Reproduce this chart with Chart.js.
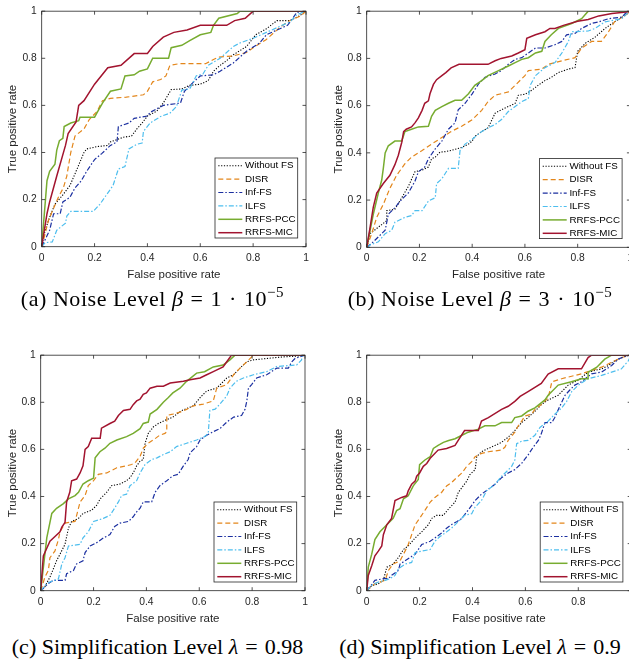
<!DOCTYPE html>
<html>
<head>
<meta charset="utf-8">
<script src="https://cdn.jsdelivr.net/npm/chart.js@4/dist/chart.umd.min.js"></script>
<style>
  html, body { margin: 0; padding: 0; background: #fff; overflow: hidden; width: 629px; height: 664px; }
  canvas { position: absolute; }
  .cap { position: absolute; font-family: "Liberation Serif", "DejaVu Serif", serif; font-size: 22px; line-height: 22px;
         text-align: center; white-space: nowrap; color: #000; }
  .cap sup { font-size: 15px; line-height: 0; vertical-align: 9px; }
  .cap .op { margin: 0 0.32em; }
  .cap.n { letter-spacing: 0.55px; }
</style>
</head>
<body>
<canvas id="cA" width="315" height="285" style="left:0;top:0"></canvas>
<canvas id="cB" width="325" height="285" style="left:315px;top:0"></canvas>
<canvas id="cC" width="315" height="285" style="left:0;top:344px"></canvas>
<canvas id="cD" width="325" height="285" style="left:315px;top:344px"></canvas>
<div class="cap n" style="left:0;top:288px;width:305px">(a) Noise Level <i>β</i><span class="op">=</span>1<span class="op">·</span>10<sup>−5</sup></div>
<div class="cap n" style="left:315px;top:288px;width:330px">(b) Noise Level <i>β</i><span class="op">=</span>3<span class="op">·</span>10<sup>−5</sup></div>
<div class="cap" style="left:0;top:636px;width:315px">(c) Simplification Level <i>λ</i><span class="op">=</span>0.98</div>
<div class="cap" style="left:315px;top:636px;width:330px">(d) Simplification Level <i>λ</i><span class="op">=</span>0.9</div>
<script>
// ---- data: ROC curves, [false positive rate, true positive rate] ----
const seriesNames = ['Without FS', 'DISR', 'Inf-FS', 'ILFS', 'RRFS-PCC', 'RRFS-MIC'];
const tickValues = [0, 0.2, 0.4, 0.6, 0.8, 1];
const tickLabels = ['0', '0.2', '0.4', '0.6', '0.8', '1'];

// (a) noise level 1e-5
const aWithout = [[0,0],[0.013,0.07],[0.03,0.125],[0.05,0.18],[0.08,0.22],[0.107,0.26],[0.13,0.32],[0.16,0.40],[0.17,0.415],[0.21,0.425],[0.25,0.43],[0.26,0.445],[0.31,0.465],[0.34,0.47],[0.36,0.50],[0.38,0.525],[0.40,0.555],[0.435,0.575],[0.46,0.61],[0.49,0.667],[0.53,0.67],[0.56,0.685],[0.60,0.69],[0.63,0.705],[0.65,0.745],[0.675,0.77],[0.70,0.79],[0.725,0.815],[0.775,0.85],[0.81,0.90],[0.85,0.925],[0.89,0.96],[0.94,0.96],[0.975,0.98],[1,1]];
const aDisr = [[0,0],[0.013,0.055],[0.025,0.11],[0.04,0.15],[0.063,0.21],[0.082,0.25],[0.095,0.30],[0.11,0.40],[0.126,0.47],[0.16,0.50],[0.18,0.54],[0.21,0.575],[0.23,0.62],[0.26,0.63],[0.32,0.635],[0.385,0.645],[0.40,0.66],[0.42,0.70],[0.45,0.71],[0.47,0.725],[0.485,0.77],[0.52,0.777],[0.62,0.777],[0.65,0.795],[0.67,0.805],[0.725,0.81],[0.775,0.825],[0.80,0.845],[0.85,0.88],[0.875,0.905],[0.9,0.93],[0.93,0.955],[0.98,0.98],[1,1]];
const aInf = [[0,0],[0.013,0.03],[0.03,0.07],[0.045,0.14],[0.07,0.14],[0.08,0.19],[0.107,0.21],[0.126,0.25],[0.15,0.28],[0.17,0.32],[0.20,0.37],[0.227,0.395],[0.26,0.43],[0.285,0.445],[0.29,0.51],[0.33,0.525],[0.35,0.545],[0.40,0.555],[0.41,0.57],[0.435,0.585],[0.46,0.60],[0.525,0.61],[0.54,0.66],[0.575,0.70],[0.60,0.725],[0.65,0.73],[0.675,0.745],[0.725,0.78],[0.775,0.83],[0.825,0.865],[0.85,0.90],[0.89,0.92],[0.93,0.94],[0.95,0.97],[0.965,0.995],[1,1]];
const aIlfs = [[0,0],[0.013,0.017],[0.04,0.02],[0.057,0.07],[0.09,0.10],[0.095,0.13],[0.11,0.15],[0.195,0.15],[0.22,0.18],[0.245,0.22],[0.27,0.26],[0.29,0.33],[0.315,0.34],[0.33,0.415],[0.36,0.435],[0.38,0.44],[0.385,0.49],[0.41,0.525],[0.45,0.553],[0.485,0.567],[0.51,0.595],[0.53,0.665],[0.56,0.67],[0.585,0.726],[0.61,0.733],[0.63,0.77],[0.675,0.80],[0.725,0.85],[0.75,0.865],[0.80,0.885],[0.85,0.91],[0.90,0.935],[0.94,0.955],[0.965,0.985],[1,1]];
const aPcc = [[0,0],[0.02,0.28],[0.03,0.32],[0.05,0.35],[0.057,0.41],[0.067,0.45],[0.08,0.46],[0.085,0.51],[0.11,0.525],[0.14,0.535],[0.145,0.55],[0.20,0.55],[0.21,0.57],[0.23,0.61],[0.26,0.66],[0.30,0.67],[0.315,0.725],[0.35,0.73],[0.37,0.745],[0.40,0.755],[0.42,0.80],[0.48,0.80],[0.49,0.845],[0.53,0.855],[0.56,0.875],[0.60,0.90],[0.64,0.91],[0.65,0.94],[0.67,0.97],[0.74,0.99],[0.75,1],[1,1]];
const aMic = [[0,0],[0.02,0.14],[0.03,0.19],[0.057,0.30],[0.09,0.43],[0.10,0.48],[0.13,0.53],[0.14,0.60],[0.16,0.62],[0.20,0.69],[0.25,0.76],[0.30,0.77],[0.35,0.82],[0.40,0.82],[0.42,0.85],[0.46,0.89],[0.50,0.91],[0.55,0.92],[0.60,0.94],[0.70,0.94],[0.73,0.96],[0.77,0.97],[0.80,1],[1,1]];

// (b) noise level 3e-5
const bWithout = [[0,0],[0.013,0.058],[0.044,0.085],[0.076,0.113],[0.076,0.155],[0.107,0.161],[0.133,0.21],[0.158,0.258],[0.183,0.32],[0.21,0.327],[0.234,0.34],[0.246,0.375],[0.26,0.382],[0.278,0.403],[0.297,0.405],[0.32,0.41],[0.36,0.423],[0.386,0.437],[0.40,0.45],[0.41,0.47],[0.436,0.49],[0.46,0.506],[0.487,0.568],[0.51,0.582],[0.537,0.596],[0.563,0.61],[0.575,0.644],[0.60,0.648],[0.626,0.665],[0.65,0.686],[0.676,0.706],[0.70,0.72],[0.727,0.74],[0.765,0.755],[0.79,0.761],[0.80,0.83],[0.83,0.865],[0.866,0.89],[0.904,0.927],[0.94,0.955],[0.98,0.982],[1,1]];
const bDisr = [[0,0],[0.019,0.058],[0.038,0.127],[0.063,0.182],[0.088,0.25],[0.114,0.306],[0.145,0.354],[0.17,0.382],[0.21,0.41],[0.246,0.437],[0.285,0.465],[0.32,0.49],[0.36,0.513],[0.40,0.54],[0.436,0.58],[0.46,0.617],[0.487,0.644],[0.537,0.658],[0.563,0.686],[0.60,0.727],[0.613,0.748],[0.664,0.755],[0.69,0.775],[0.74,0.79],[0.79,0.803],[0.815,0.844],[0.853,0.872],[0.89,0.872],[0.917,0.913],[0.94,0.955],[0.98,0.982],[1,1]];
const bInf = [[0,0],[0.019,0.017],[0.044,0.044],[0.07,0.072],[0.082,0.14],[0.107,0.168],[0.133,0.203],[0.158,0.23],[0.183,0.28],[0.196,0.32],[0.22,0.34],[0.234,0.375],[0.26,0.417],[0.285,0.45],[0.31,0.50],[0.335,0.527],[0.347,0.582],[0.373,0.61],[0.40,0.65],[0.424,0.692],[0.449,0.72],[0.487,0.734],[0.51,0.748],[0.537,0.775],[0.563,0.796],[0.588,0.803],[0.613,0.823],[0.64,0.844],[0.676,0.844],[0.714,0.858],[0.74,0.872],[0.758,0.90],[0.79,0.906],[0.815,0.927],[0.853,0.948],[0.88,0.955],[0.917,0.968],[0.967,0.975],[0.985,0.995],[1,1]];
const bIlfs = [[0,0],[0.013,0.01],[0.044,0.023],[0.07,0.058],[0.095,0.072],[0.107,0.106],[0.145,0.127],[0.17,0.134],[0.183,0.155],[0.21,0.155],[0.234,0.196],[0.26,0.21],[0.265,0.27],[0.285,0.29],[0.31,0.334],[0.347,0.334],[0.354,0.41],[0.373,0.437],[0.40,0.458],[0.436,0.49],[0.46,0.506],[0.487,0.52],[0.51,0.54],[0.537,0.575],[0.563,0.596],[0.588,0.617],[0.613,0.63],[0.62,0.686],[0.64,0.727],[0.676,0.761],[0.714,0.782],[0.74,0.823],[0.765,0.872],[0.777,0.913],[0.84,0.916],[0.866,0.927],[0.904,0.955],[0.967,0.968],[0.992,0.995],[1,1]];
const bPcc = [[0,0],[0.025,0.14],[0.044,0.23],[0.057,0.285],[0.063,0.334],[0.07,0.40],[0.082,0.43],[0.107,0.45],[0.133,0.45],[0.145,0.49],[0.17,0.50],[0.196,0.51],[0.234,0.513],[0.246,0.555],[0.26,0.58],[0.285,0.596],[0.31,0.61],[0.335,0.623],[0.36,0.623],[0.386,0.65],[0.41,0.686],[0.436,0.706],[0.46,0.727],[0.50,0.748],[0.537,0.768],[0.563,0.782],[0.588,0.796],[0.613,0.803],[0.64,0.823],[0.664,0.83],[0.676,0.872],[0.70,0.90],[0.727,0.927],[0.777,0.948],[0.815,0.968],[0.84,1],[1,1]];
const bMic = [[0,0],[0.013,0.085],[0.025,0.17],[0.038,0.23],[0.063,0.27],[0.088,0.305],[0.107,0.35],[0.12,0.39],[0.133,0.445],[0.14,0.49],[0.15,0.50],[0.17,0.51],[0.183,0.527],[0.196,0.548],[0.21,0.58],[0.22,0.61],[0.234,0.62],[0.24,0.65],[0.253,0.69],[0.265,0.71],[0.285,0.727],[0.30,0.74],[0.32,0.76],[0.35,0.775],[0.46,0.775],[0.487,0.79],[0.51,0.80],[0.55,0.81],[0.575,0.823],[0.60,0.837],[0.607,0.885],[0.64,0.90],[0.676,0.913],[0.695,0.927],[0.714,0.927],[0.746,0.94],[0.80,0.957],[0.84,0.965],[0.88,0.98],[0.93,0.99],[0.975,0.995],[1,1]];

// (c) simplification level 0.98
const cWithout = [[0,0],[0.016,0.017],[0.035,0.058],[0.048,0.093],[0.06,0.127],[0.073,0.155],[0.092,0.197],[0.105,0.266],[0.117,0.294],[0.143,0.307],[0.16,0.328],[0.193,0.342],[0.212,0.363],[0.225,0.39],[0.25,0.418],[0.268,0.446],[0.30,0.453],[0.325,0.467],[0.338,0.48],[0.35,0.50],[0.363,0.53],[0.376,0.55],[0.388,0.557],[0.395,0.626],[0.407,0.668],[0.426,0.695],[0.445,0.71],[0.47,0.723],[0.50,0.737],[0.533,0.765],[0.578,0.785],[0.603,0.82],[0.628,0.848],[0.666,0.86],[0.704,0.903],[0.73,0.917],[0.754,0.945],[0.78,0.972],[0.805,0.98],[0.855,0.986],[0.92,0.993],[0.98,0.997],[1,1]];
const cDisr = [[0,0],[0.016,0.058],[0.029,0.086],[0.035,0.14],[0.054,0.169],[0.067,0.217],[0.073,0.25],[0.092,0.287],[0.13,0.294],[0.136,0.32],[0.149,0.377],[0.168,0.404],[0.18,0.446],[0.20,0.467],[0.218,0.494],[0.25,0.50],[0.288,0.522],[0.325,0.53],[0.344,0.536],[0.357,0.543],[0.376,0.57],[0.388,0.605],[0.407,0.626],[0.426,0.64],[0.45,0.66],[0.47,0.668],[0.477,0.675],[0.477,0.744],[0.50,0.75],[0.527,0.758],[0.552,0.77],[0.578,0.785],[0.615,0.792],[0.653,0.806],[0.666,0.86],[0.704,0.875],[0.73,0.917],[0.754,0.945],[0.78,0.972],[0.805,1],[1,1]];
const cInf = [[0,0],[0.016,0.017],[0.029,0.03],[0.048,0.044],[0.092,0.044],[0.098,0.072],[0.124,0.086],[0.136,0.114],[0.16,0.127],[0.168,0.162],[0.187,0.19],[0.212,0.204],[0.237,0.224],[0.262,0.238],[0.28,0.273],[0.30,0.287],[0.332,0.294],[0.35,0.314],[0.363,0.335],[0.376,0.35],[0.388,0.377],[0.42,0.377],[0.433,0.418],[0.451,0.446],[0.477,0.467],[0.50,0.488],[0.52,0.494],[0.54,0.53],[0.558,0.557],[0.565,0.585],[0.59,0.612],[0.603,0.64],[0.628,0.66],[0.653,0.675],[0.678,0.688],[0.704,0.716],[0.73,0.737],[0.76,0.744],[0.773,0.77],[0.78,0.806],[0.786,0.86],[0.798,0.875],[0.817,0.903],[0.855,0.917],[0.893,0.945],[0.937,0.945],[0.95,0.972],[0.962,0.986],[0.98,0.993],[1,1]];
const cIlfs = [[0,0],[0.023,0.03],[0.035,0.037],[0.067,0.05],[0.08,0.114],[0.092,0.14],[0.105,0.19],[0.149,0.197],[0.16,0.224],[0.18,0.25],[0.20,0.294],[0.237,0.307],[0.262,0.32],[0.275,0.342],[0.294,0.377],[0.306,0.404],[0.325,0.41],[0.338,0.446],[0.363,0.467],[0.376,0.50],[0.395,0.536],[0.42,0.557],[0.44,0.564],[0.464,0.578],[0.49,0.59],[0.514,0.612],[0.552,0.626],[0.59,0.64],[0.62,0.654],[0.634,0.668],[0.64,0.765],[0.66,0.771],[0.678,0.792],[0.704,0.827],[0.716,0.86],[0.74,0.889],[0.767,0.903],[0.805,0.917],[0.855,0.93],[0.893,0.952],[0.968,0.958],[0.987,0.98],[0.99,1],[1,1]];
const cPcc = [[0,0],[0.023,0.224],[0.042,0.328],[0.06,0.35],[0.086,0.37],[0.105,0.39],[0.13,0.404],[0.143,0.418],[0.16,0.453],[0.18,0.467],[0.20,0.478],[0.206,0.564],[0.224,0.59],[0.243,0.605],[0.262,0.626],[0.288,0.64],[0.325,0.654],[0.35,0.668],[0.376,0.688],[0.388,0.71],[0.407,0.716],[0.414,0.75],[0.44,0.77],[0.464,0.80],[0.483,0.82],[0.50,0.84],[0.527,0.86],[0.552,0.889],[0.59,0.924],[0.62,0.93],[0.653,0.95],[0.69,0.958],[0.716,0.98],[0.735,1],[1,1]];
const cMic = [[0,0],[0.01,0.148],[0.023,0.18],[0.035,0.21],[0.054,0.23],[0.073,0.25],[0.08,0.27],[0.092,0.29],[0.098,0.377],[0.11,0.418],[0.117,0.467],[0.136,0.474],[0.149,0.50],[0.16,0.53],[0.168,0.60],[0.18,0.612],[0.193,0.647],[0.225,0.647],[0.23,0.69],[0.262,0.71],[0.28,0.72],[0.294,0.744],[0.313,0.765],[0.338,0.77],[0.35,0.79],[0.363,0.806],[0.376,0.813],[0.388,0.834],[0.40,0.84],[0.414,0.86],[0.44,0.868],[0.464,0.868],[0.49,0.882],[0.54,0.889],[0.565,0.896],[0.603,0.903],[0.628,0.917],[0.653,0.93],[0.69,0.95],[0.704,0.972],[0.722,1],[1,1]];

// (d) simplification level 0.9
const dWithout = [[0,0],[0.013,0.017],[0.044,0.03],[0.063,0.044],[0.076,0.10],[0.10,0.113],[0.12,0.141],[0.139,0.175],[0.157,0.19],[0.183,0.224],[0.208,0.25],[0.233,0.28],[0.246,0.307],[0.264,0.32],[0.29,0.32],[0.31,0.348],[0.334,0.376],[0.346,0.417],[0.36,0.438],[0.378,0.465],[0.39,0.493],[0.41,0.514],[0.416,0.569],[0.434,0.59],[0.46,0.604],[0.485,0.617],[0.51,0.63],[0.535,0.652],[0.56,0.68],[0.586,0.714],[0.61,0.735],[0.636,0.762],[0.66,0.79],[0.686,0.81],[0.724,0.83],[0.762,0.873],[0.80,0.894],[0.837,0.928],[0.888,0.942],[0.913,0.956],[0.938,0.976],[0.976,0.995],[1,1]];
const dDisr = [[0,0],[0.031,0.03],[0.07,0.044],[0.082,0.086],[0.10,0.113],[0.126,0.127],[0.145,0.168],[0.157,0.196],[0.17,0.238],[0.183,0.28],[0.20,0.307],[0.22,0.341],[0.24,0.376],[0.258,0.396],[0.283,0.417],[0.302,0.445],[0.32,0.458],[0.34,0.48],[0.36,0.50],[0.378,0.528],[0.397,0.548],[0.41,0.569],[0.434,0.583],[0.46,0.59],[0.51,0.597],[0.523,0.61],[0.535,0.638],[0.56,0.673],[0.573,0.70],[0.586,0.72],[0.598,0.742],[0.623,0.749],[0.636,0.77],[0.66,0.79],[0.686,0.818],[0.70,0.887],[0.737,0.90],[0.787,0.914],[0.812,0.921],[0.85,0.935],[0.888,0.949],[0.926,0.97],[0.963,0.99],[1,1]];
const dInf = [[0,0],[0.013,0.017],[0.031,0.044],[0.063,0.051],[0.082,0.051],[0.094,0.065],[0.12,0.086],[0.126,0.113],[0.145,0.127],[0.164,0.141],[0.183,0.155],[0.208,0.196],[0.24,0.21],[0.258,0.224],[0.283,0.245],[0.302,0.265],[0.32,0.28],[0.34,0.293],[0.36,0.307],[0.378,0.334],[0.397,0.362],[0.41,0.383],[0.434,0.41],[0.46,0.431],[0.485,0.452],[0.51,0.48],[0.535,0.50],[0.56,0.514],[0.586,0.541],[0.61,0.576],[0.63,0.61],[0.649,0.638],[0.66,0.666],[0.674,0.714],[0.70,0.714],[0.711,0.735],[0.73,0.783],[0.75,0.83],[0.768,0.852],[0.787,0.873],[0.812,0.887],[0.85,0.921],[0.888,0.928],[0.926,0.956],[0.95,0.983],[0.976,0.995],[1,1]];
const dIlfs = [[0,0],[0.019,0.023],[0.044,0.037],[0.07,0.044],[0.088,0.051],[0.107,0.065],[0.12,0.093],[0.145,0.113],[0.17,0.12],[0.183,0.162],[0.208,0.168],[0.24,0.175],[0.258,0.21],[0.277,0.23],[0.296,0.245],[0.32,0.265],[0.346,0.293],[0.37,0.32],[0.397,0.327],[0.41,0.355],[0.434,0.383],[0.453,0.424],[0.485,0.452],[0.51,0.486],[0.53,0.507],[0.548,0.528],[0.56,0.555],[0.567,0.624],[0.586,0.635],[0.61,0.638],[0.636,0.66],[0.655,0.693],[0.686,0.72],[0.711,0.749],[0.737,0.776],[0.756,0.804],[0.775,0.845],[0.80,0.873],[0.837,0.90],[0.888,0.914],[0.926,0.928],[0.963,0.942],[0.989,0.976],[1,1]];
const dPcc = [[0,0],[0.006,0.10],[0.019,0.155],[0.031,0.217],[0.05,0.25],[0.076,0.28],[0.10,0.307],[0.113,0.34],[0.126,0.348],[0.139,0.39],[0.157,0.403],[0.176,0.445],[0.195,0.472],[0.20,0.535],[0.22,0.555],[0.24,0.569],[0.252,0.604],[0.27,0.617],[0.29,0.63],[0.31,0.638],[0.334,0.645],[0.36,0.66],[0.384,0.673],[0.422,0.686],[0.447,0.70],[0.485,0.70],[0.51,0.714],[0.548,0.714],[0.56,0.735],[0.586,0.742],[0.61,0.762],[0.636,0.776],[0.674,0.81],[0.686,0.83],[0.724,0.873],[0.774,0.887],[0.812,0.90],[0.837,0.90],[0.837,0.928],[0.87,0.949],[0.90,0.983],[0.926,1],[1,1]];
const dMic = [[0,0],[0.006,0.065],[0.019,0.106],[0.031,0.148],[0.044,0.168],[0.057,0.19],[0.063,0.238],[0.076,0.28],[0.094,0.307],[0.107,0.383],[0.132,0.396],[0.151,0.403],[0.157,0.424],[0.17,0.452],[0.183,0.465],[0.189,0.486],[0.20,0.50],[0.214,0.528],[0.227,0.54],[0.24,0.562],[0.27,0.597],[0.302,0.604],[0.334,0.617],[0.346,0.638],[0.37,0.68],[0.422,0.68],[0.434,0.72],[0.46,0.735],[0.51,0.77],[0.535,0.783],[0.56,0.804],[0.58,0.825],[0.61,0.845],[0.66,0.88],[0.686,0.92],[0.724,0.942],[0.812,0.942],[0.837,0.99],[0.85,1],[1,1]];

// ---- styles ----
const seriesColors = ['#000000', '#E3861B', '#1B2FA0', '#4DBEEE', '#77AC30', '#A2142F'];
const seriesDash = [[1.2, 1.6], [5, 3], [5, 2, 1.5, 2], [5, 2, 1.5, 2], [], []];
const seriesWidth = [1.1, 1.2, 1.2, 1.2, 1.5, 1.5];

Chart.defaults.font.family = '"Liberation Sans", Arial, sans-serif';
Chart.defaults.color = '#262626';

// box with inward ticks on all four sides + legend inside the lower right corner
const matlabBox = {
  id: 'matlabBox',
  afterDatasetsDraw(chart) {
    const {ctx, chartArea: a, scales: {x, y}} = chart;
    ctx.save();
    ctx.strokeStyle = '#262626';
    ctx.lineWidth = 0.8;
    ctx.strokeRect(a.left, a.top, a.right - a.left, a.bottom - a.top);
    ctx.beginPath();
    tickValues.forEach(v => {
      const px = x.getPixelForValue(v), py = y.getPixelForValue(v);
      ctx.moveTo(px, a.bottom); ctx.lineTo(px, a.bottom - 3.5);
      ctx.moveTo(px, a.top); ctx.lineTo(px, a.top + 3.5);
      ctx.moveTo(a.left, py); ctx.lineTo(a.left + 3.5, py);
      ctx.moveTo(a.right, py); ctx.lineTo(a.right - 3.5, py);
    });
    ctx.stroke();
    ctx.restore();
  },
  afterDraw(chart) {
    const {ctx, chartArea: a} = chart;
    const w = 82.7, h = 80;
    const left = a.right - 8.3 - w, top = a.bottom - 8.7 - h;
    ctx.save();
    ctx.fillStyle = '#fff';
    ctx.fillRect(left, top, w, h);
    ctx.strokeStyle = '#262626';
    ctx.lineWidth = 0.8;
    ctx.strokeRect(left, top, w, h);
    ctx.font = '9.8px "Liberation Sans", Arial, sans-serif';
    ctx.textBaseline = 'middle';
    seriesNames.forEach((name, i) => {
      const cy = top + 7.7 + i * 13.4;
      ctx.beginPath();
      ctx.strokeStyle = seriesColors[i];
      ctx.lineWidth = seriesWidth[i];
      ctx.setLineDash(seriesDash[i]);
      ctx.moveTo(left + 3.3, cy);
      ctx.lineTo(left + 27.3, cy);
      ctx.stroke();
      ctx.setLineDash([]);
      ctx.fillStyle = '#000';
      ctx.fillText(name, left + 30, cy);
    });
    ctx.restore();
  }
};

function makePanel(id, curves, yWidth, padTop, padRight, xHeight, yTitlePad) {
  const datasets = curves.map((pts, i) => ({
    label: seriesNames[i],
    data: pts.map(p => ({x: p[0], y: p[1]})),
    borderColor: seriesColors[i],
    borderWidth: seriesWidth[i],
    borderDash: seriesDash[i],
    pointRadius: 0,
    tension: 0,
    fill: false,
    order: 6 - i
  }));
  const tickFont = {size: 10.3};
  return new Chart(document.getElementById(id).getContext('2d'), {
    type: 'line',
    data: {datasets},
    plugins: [matlabBox],
    options: {
      responsive: false,
      animation: false,
      layout: {padding: {left: 0, top: padTop, right: padRight, bottom: 0}},
      plugins: {legend: {display: false}, tooltip: {enabled: false}},
      scales: {
        x: {
          type: 'linear', min: 0, max: 1,
          grid: {display: false, drawTicks: false},
          border: {display: false},
          ticks: {stepSize: 0.2, padding: 5, font: tickFont, maxRotation: 0,
                  callback: (v, i) => tickLabels[i]},
          title: {display: true, text: 'False positive rate', font: {size: 11.5},
                  padding: {top: 0, bottom: 3.1}},
          afterFit: s => { s.height = xHeight; }
        },
        y: {
          type: 'linear', min: 0, max: 1,
          grid: {display: false, drawTicks: false},
          border: {display: false},
          ticks: {stepSize: 0.2, padding: 5, font: tickFont,
                  callback: (v, i) => tickLabels[i]},
          title: {display: true, text: 'True positive rate', font: {size: 11.5},
                  padding: {top: yTitlePad, bottom: 0}},
          afterFit: s => { s.width = yWidth; }
        }
      }
    }
  });
}

makePanel('cA', [aWithout, aDisr, aInf, aIlfs, aPcc, aMic], 41.7, 5.7, 9, 38.3, 6.4);
makePanel('cB', [bWithout, bDisr, bInf, bIlfs, bPcc, bMic], 51.7, 5.7, 9.6, 37.7, 17.1);
makePanel('cC', [cWithout, cDisr, cInf, cIlfs, cPcc, cMic], 40.7, 6, 10, 38.3, 6.4);
makePanel('cD', [dWithout, dDisr, dInf, dIlfs, dPcc, dMic], 51.7, 5.3, 8.8, 38.3, 17.1);
</script>
</body>
</html>
